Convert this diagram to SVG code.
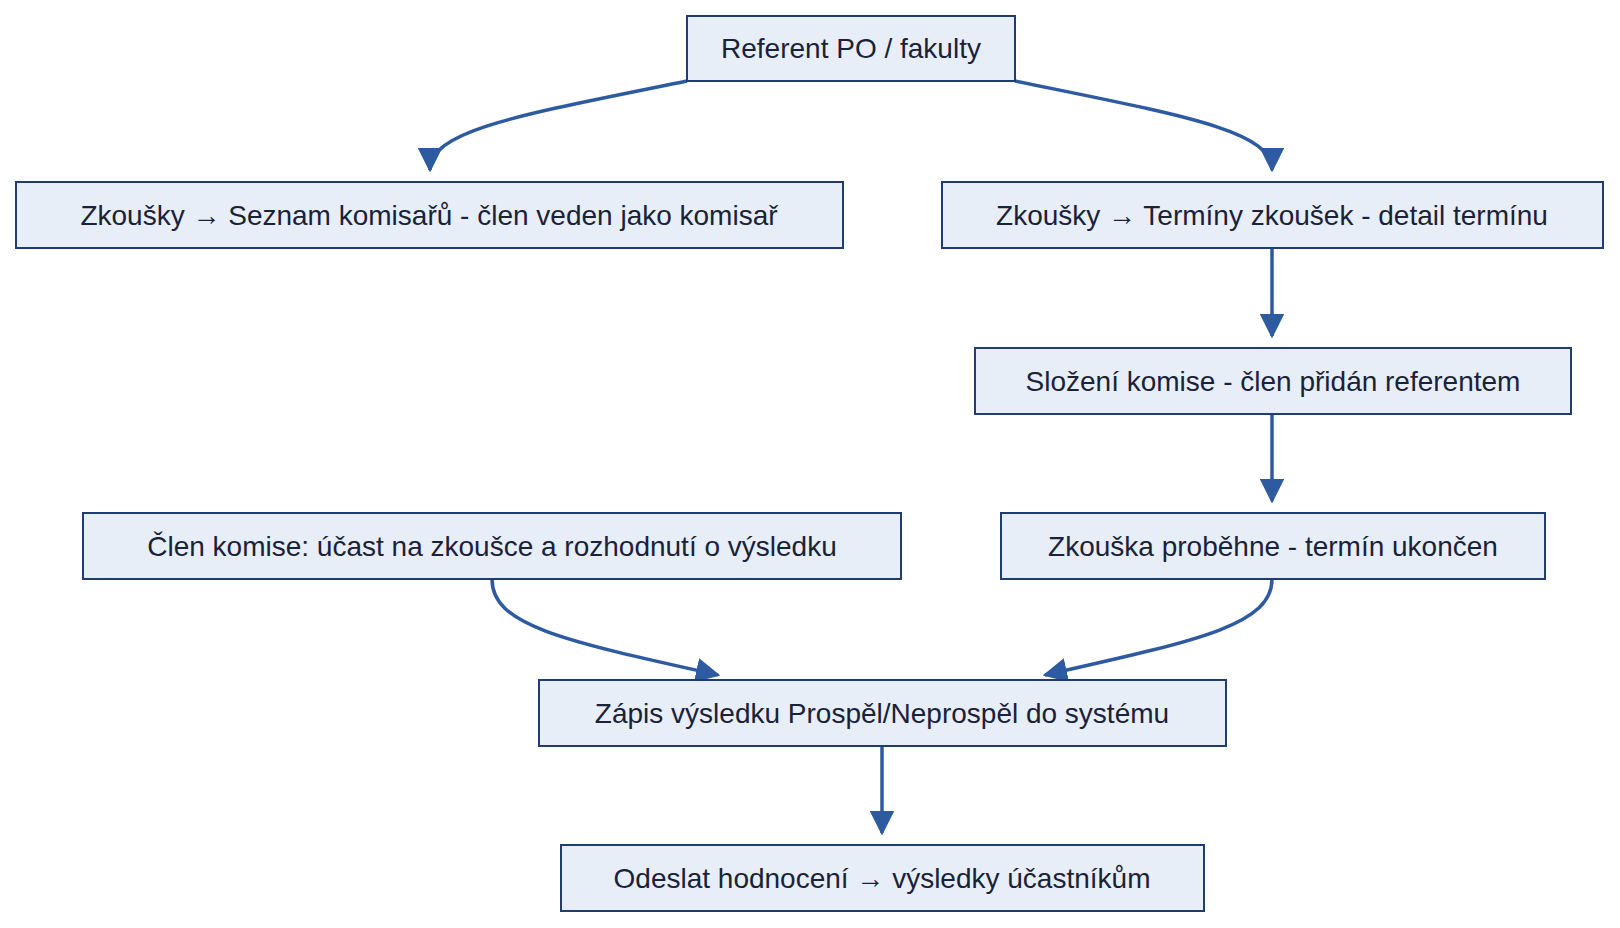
<svg xmlns="http://www.w3.org/2000/svg" width="1620" height="928" viewBox="0 0 1620 928">
<style>
.n rect{fill:#e8eef8;stroke:#1f3d73;stroke-width:2}
.n text{font-family:"Liberation Sans",Arial,sans-serif;font-size:28px;fill:#1a2238;text-anchor:middle;dominant-baseline:central}
.e path{fill:none;stroke:#2d5aa0;stroke-width:3.5}
</style>
<defs><marker id="a" viewBox="0 0 10 10" refX="9" refY="5" markerWidth="7" markerHeight="7" markerUnits="userSpaceOnUse" orient="auto"><path d="M0,0L10,5L0,10z" fill="#2d5aa0"/></marker>
<marker id="m" viewBox="0 0 10 10" refX="9" refY="5" markerWidth="7" markerHeight="7" orient="auto"><path d="M0,0L10,5L0,10z" fill="#2d5aa0"/></marker></defs>
<rect width="1620" height="928" fill="#fff"/>
<g class="e">
<path marker-end="url(#m)" d="M687,81 C520,115 430,130 430,170"/>
<path marker-end="url(#m)" d="M1015,81 C1180,115 1272,130 1272,170"/>
<path marker-end="url(#m)" d="M1272,248 L1272,336"/>
<path marker-end="url(#m)" d="M1272,414 L1272,501"/>
<path marker-end="url(#m)" d="M492,579 C492,625 560,640 718,675"/>
<path marker-end="url(#m)" d="M1272,579 C1272,625 1200,640 1045,675"/>
<path marker-end="url(#m)" d="M882,746 L882,833"/>
</g>
<g id="n1" class="n"><rect x="687" y="16" width="328" height="65"/><text x="851" y="48">Referent PO / fakulty</text></g>
<g id="n2" class="n"><rect x="16" y="182" width="827" height="66"/><text x="429" y="215">Zkoušky → Seznam komisařů - člen veden jako komisař</text></g>
<g id="n3" class="n"><rect x="942" y="182" width="661" height="66"/><text x="1272" y="215">Zkoušky → Termíny zkoušek - detail termínu</text></g>
<g id="n4" class="n"><rect x="975" y="348" width="596" height="66"/><text x="1273" y="381">Složení komise - člen přidán referentem</text></g>
<g id="n5" class="n"><rect x="1001" y="513" width="544" height="66"/><text x="1273" y="546">Zkouška proběhne - termín ukončen</text></g>
<g id="n6" class="n"><rect x="83" y="513" width="818" height="66"/><text x="492" y="546">Člen komise: účast na zkoušce a rozhodnutí o výsledku</text></g>
<g id="n7" class="n"><rect x="539" y="680" width="687" height="66"/><text x="882" y="713">Zápis výsledku Prospěl/Neprospěl do systému</text></g>
<g id="n8" class="n"><rect x="561" y="845" width="643" height="66"/><text x="882" y="878">Odeslat hodnocení → výsledky účastníkům</text></g>
</svg>
